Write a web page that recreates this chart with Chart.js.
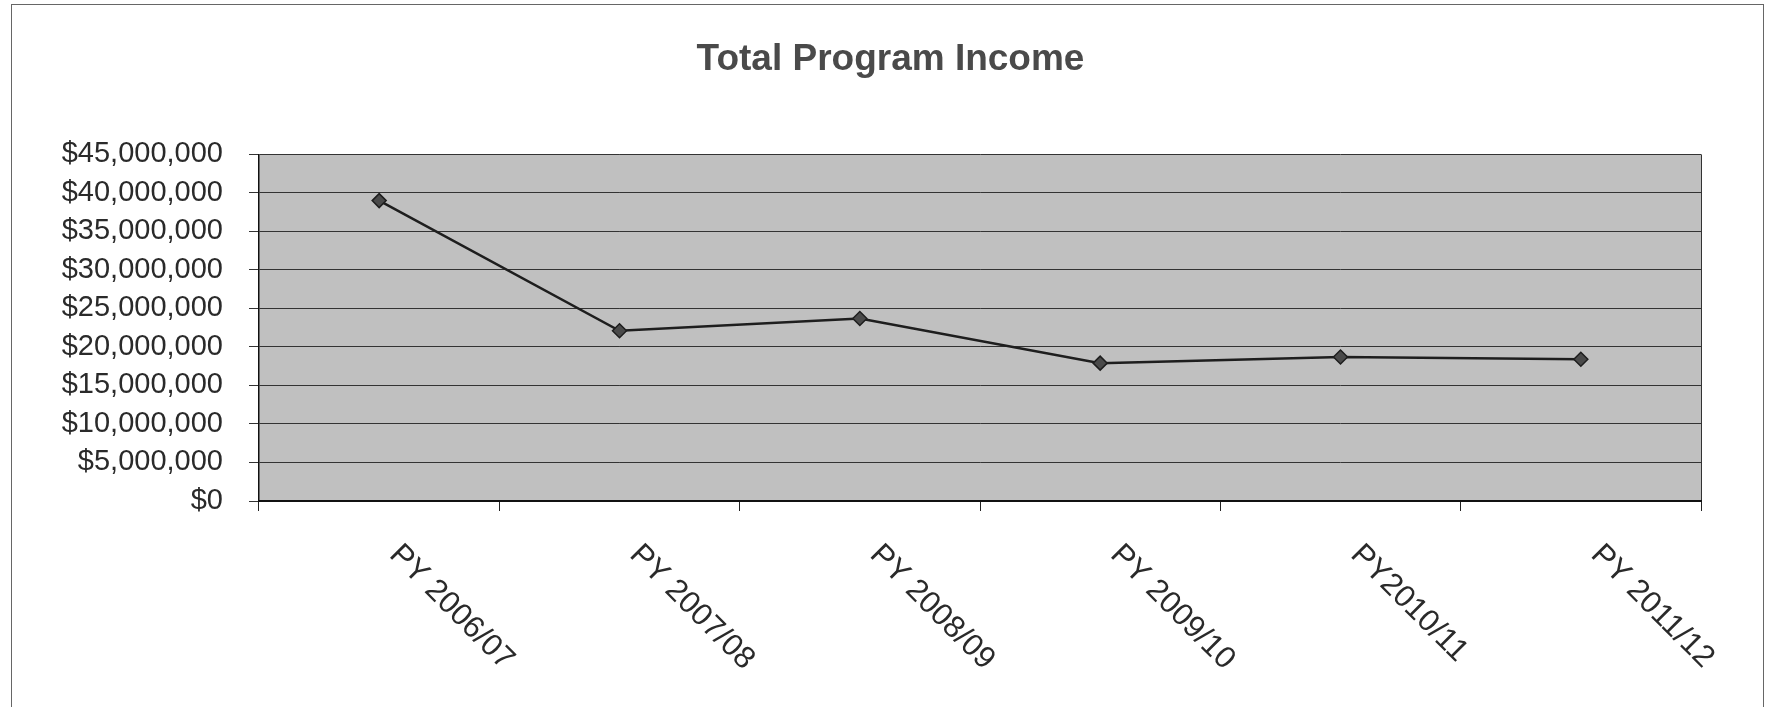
<!DOCTYPE html>
<html>
<head>
<meta charset="utf-8">
<title>Total Program Income</title>
<script src="https://cdn.jsdelivr.net/npm/chart.js@4"></script>
<style>
    html, body { margin: 0; padding: 0; background: #fff; }
    #wrap { position: relative; width: 1765px; height: 707px; }
    #frame {
        position: absolute; left: 11px; top: 4px; width: 1751px; height: 720px;
        border: 1px solid #666; border-bottom: none; pointer-events: none;
    }
</style>
</head>
<body>
<div id="wrap">
    <canvas id="incomeChart" width="1765" height="707"></canvas>
    <div id="frame"></div>
</div>
<script>
const categories = ['PY 2006/07', 'PY 2007/08', 'PY 2008/09', 'PY 2009/10', 'PY2010/11', 'PY 2011/12'];
const programIncome = [39000000, 22100000, 23700000, 17900000, 18700000, 18400000];
const yMax = 45000000;
const yStep = 5000000;

const FONT = "'Liberation Sans', Arial, sans-serif";

// grey plot area with a thin border on the right
const plotAreaPlugin = {
    id: 'plotArea',
    beforeDraw(chart) {
        const { ctx, chartArea: a } = chart;
        ctx.save();
        ctx.fillStyle = '#c0c0c0';
        ctx.fillRect(a.left, a.top, a.right - a.left, a.bottom - a.top);
        ctx.strokeStyle = '#333';
        ctx.lineWidth = 1;
        ctx.beginPath();
        ctx.moveTo(a.right + 0.5, a.top);
        ctx.lineTo(a.right + 0.5, a.bottom);
        ctx.stroke();
        ctx.restore();
    }
};

// category labels slanted down to the right, placed from the x scale
const slantedLabelsPlugin = {
    id: 'slantedLabels',
    afterDraw(chart) {
        const { ctx } = chart;
        const xScale = chart.scales.x;
        ctx.save();
        ctx.font = '31px ' + FONT;
        ctx.fillStyle = '#2a2a2a';
        ctx.textAlign = 'left';
        ctx.textBaseline = 'alphabetic';
        categories.forEach((label, i) => {
            const x = xScale.getPixelForTick(i);
            ctx.save();
            ctx.translate(x + 9, xScale.top + 55);
            ctx.rotate(Math.PI / 4);
            ctx.fillText(label, 0, 0);
            ctx.restore();
        });
        ctx.restore();
    }
};

new Chart(document.getElementById('incomeChart'), {
    type: 'line',
    data: {
        labels: categories,
        datasets: [{
            label: 'Total Program Income',
            data: programIncome,
            borderColor: '#1e1e1e',
            borderWidth: 2.5,
            pointStyle: 'rectRot',
            pointRadius: 7,
            pointBackgroundColor: '#4a4a4a',
            pointBorderColor: '#1e1e1e',
            pointBorderWidth: 1.5,
            tension: 0,
            fill: false
        }]
    },
    options: {
        responsive: false,
        animation: false,
        layout: { padding: { left: 16, right: 0, top: 0, bottom: 0 } },
        plugins: {
            legend: { display: false },
            tooltip: { enabled: false },
            title: {
                display: true,
                text: 'Total Program Income',
                color: '#4a4a4a',
                font: { family: FONT, size: 37, weight: 'bold' },
                padding: { top: 38, bottom: 72 }
            }
        },
        scales: {
            x: {
                offset: true,
                grid: { offset: true, drawOnChartArea: false, drawTicks: true, tickLength: 10, color: '#222' },
                border: { display: true, color: '#111', width: 2 },
                ticks: { display: false },
                afterFit(scale) { scale.height = 206; }
            },
            y: {
                min: 0,
                max: yMax,
                grid: { color: '#333', lineWidth: 1, tickLength: 10, drawTicks: true },
                border: { display: true, color: '#111', width: 1.5 },
                ticks: {
                    stepSize: yStep,
                    padding: 26,
                    color: '#2a2a2a',
                    font: { family: FONT, size: 29 },
                    callback: v => '$' + Number(v).toLocaleString('en-US')
                },
                afterFit(scale) { scale.width = 243; }
            },
            // empty right-hand margin so the plot ends where the reference does
            margin: {
                type: 'linear',
                position: 'right',
                display: true,
                grid: { drawOnChartArea: false, drawTicks: false },
                border: { display: false },
                ticks: { display: false },
                afterFit(scale) { scale.width = 64; }
            }
        }
    },
    plugins: [plotAreaPlugin, slantedLabelsPlugin]
});
</script>
</body>
</html>
